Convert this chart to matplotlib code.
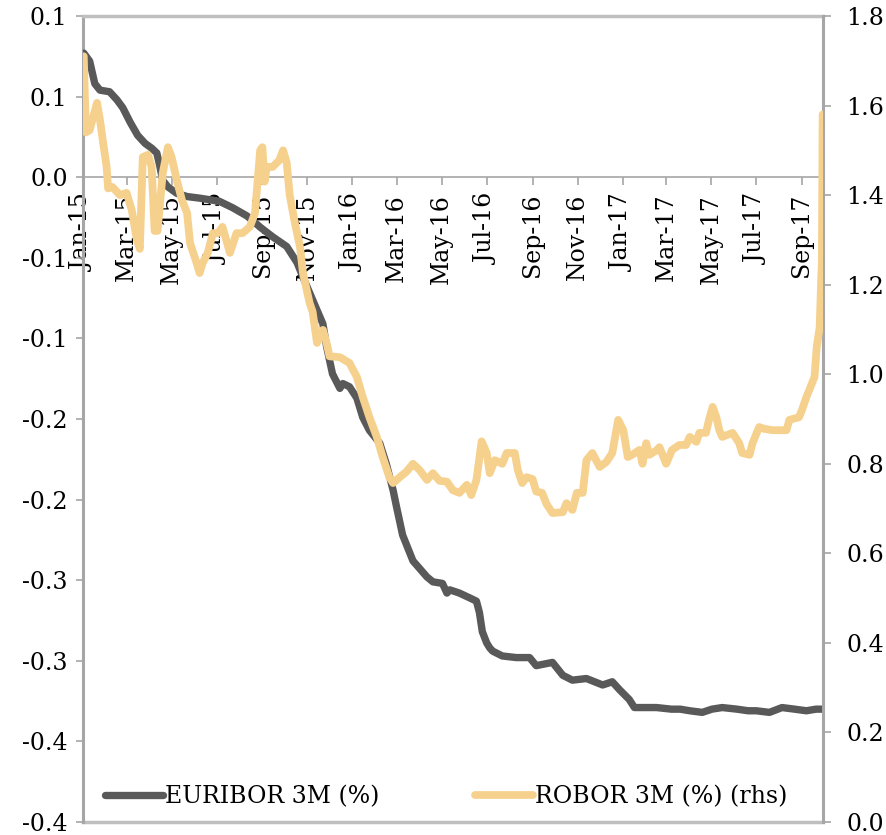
import pandas as pd
import numpy as np
import matplotlib
matplotlib.use('Agg')
import matplotlib.pyplot as plt
import matplotlib.dates as mdates

# EURIBOR 3M (%), left axis
euribor_dates = ['2015-01-02', '2015-01-10', '2015-01-17', '2015-01-24', '2015-02-06', '2015-02-16',
                 '2015-02-24', '2015-03-06', '2015-03-16', '2015-03-26', '2015-04-04', '2015-04-11',
                 '2015-04-15', '2015-04-19', '2015-04-26', '2015-05-08', '2015-05-22', '2015-06-08',
                 '2015-06-22', '2015-07-05', '2015-07-23', '2015-08-11', '2015-08-19', '2015-08-29',
                 '2015-09-15', '2015-10-04', '2015-10-18', '2015-10-26', '2015-11-08', '2015-11-22',
                 '2015-11-27', '2015-12-05', '2015-12-15', '2015-12-19', '2015-12-28', '2016-01-07',
                 '2016-01-15', '2016-01-24', '2016-02-07', '2016-02-16', '2016-02-25', '2016-03-01',
                 '2016-03-09', '2016-03-23', '2016-04-11', '2016-04-19', '2016-05-02', '2016-05-08',
                 '2016-05-12', '2016-05-25', '2016-06-08', '2016-06-17', '2016-06-21', '2016-06-25',
                 '2016-07-01', '2016-07-05', '2016-07-09', '2016-07-22', '2016-08-10', '2016-08-28',
                 '2016-09-06', '2016-09-28', '2016-10-12', '2016-10-25', '2016-11-13', '2016-12-05',
                 '2016-12-18', '2016-12-28', '2017-01-10', '2017-01-17', '2017-02-16', '2017-03-08',
                 '2017-03-20', '2017-04-02', '2017-04-19', '2017-05-02', '2017-05-16', '2017-06-05',
                 '2017-06-20', '2017-07-01', '2017-07-19', '2017-08-05', '2017-08-22', '2017-09-07',
                 '2017-09-20', '2017-09-29']
euribor_vals = [0.077, 0.072, 0.058, 0.054, 0.053, 0.048,
                0.043, 0.034, 0.026, 0.021, 0.018, 0.015,
                0.007, -0.002, -0.006, -0.010, -0.012, -0.013,
                -0.014, -0.015, -0.019, -0.024, -0.027, -0.031,
                -0.037, -0.043, -0.053, -0.062, -0.076, -0.091,
                -0.105, -0.122, -0.131, -0.128, -0.130, -0.137,
                -0.149, -0.157, -0.165, -0.178, -0.194, -0.205,
                -0.222, -0.238, -0.248, -0.251, -0.252, -0.258,
                -0.256, -0.258, -0.261, -0.263, -0.270, -0.282,
                -0.289, -0.292, -0.294, -0.297, -0.298, -0.298,
                -0.303, -0.301, -0.309, -0.312, -0.311, -0.315,
                -0.313, -0.318, -0.324, -0.329, -0.329, -0.330,
                -0.330, -0.331, -0.332, -0.330, -0.329, -0.330,
                -0.331, -0.331, -0.332, -0.329, -0.330, -0.331,
                -0.330, -0.330]

# ROBOR 3M (%), right axis
robor_dates = ['2015-01-02', '2015-01-05', '2015-01-10', '2015-01-20', '2015-01-24', '2015-01-28',
               '2015-02-02', '2015-02-04', '2015-02-10', '2015-02-20', '2015-03-01', '2015-03-08',
               '2015-03-15', '2015-03-19', '2015-03-23', '2015-03-30', '2015-04-04', '2015-04-08',
               '2015-04-12', '2015-04-19', '2015-04-26', '2015-05-01', '2015-05-08', '2015-05-15',
               '2015-05-22', '2015-05-26', '2015-06-04', '2015-06-08', '2015-06-12', '2015-06-19',
               '2015-06-26', '2015-07-03', '2015-07-09', '2015-07-19', '2015-07-28', '2015-08-05',
               '2015-08-15', '2015-08-22', '2015-08-29', '2015-09-01', '2015-09-04', '2015-09-07',
               '2015-09-15', '2015-09-24', '2015-09-29', '2015-10-04', '2015-10-08', '2015-10-15',
               '2015-10-22', '2015-10-26', '2015-11-04', '2015-11-08', '2015-11-14', '2015-11-22',
               '2015-11-27', '2015-12-01', '2015-12-15', '2015-12-28', '2016-01-07', '2016-01-15',
               '2016-01-24', '2016-02-03', '2016-02-11', '2016-02-20', '2016-02-25', '2016-03-05',
               '2016-03-14', '2016-03-23', '2016-04-01', '2016-04-11', '2016-04-19', '2016-04-28',
               '2016-05-08', '2016-05-16', '2016-05-25', '2016-06-04', '2016-06-10', '2016-06-17',
               '2016-06-24', '2016-07-01', '2016-07-05', '2016-07-12', '2016-07-22', '2016-07-28',
               '2016-08-08', '2016-08-12', '2016-08-18', '2016-08-24', '2016-09-01', '2016-09-06',
               '2016-09-14', '2016-09-20', '2016-09-28', '2016-10-12', '2016-10-17', '2016-10-25',
               '2016-10-31', '2016-11-08', '2016-11-13', '2016-11-21', '2016-12-01', '2016-12-10',
               '2016-12-18', '2016-12-26', '2017-01-02', '2017-01-08', '2017-01-14', '2017-01-24',
               '2017-01-28', '2017-02-02', '2017-02-06', '2017-02-16', '2017-02-20', '2017-03-01',
               '2017-03-09', '2017-03-19', '2017-03-28', '2017-04-02', '2017-04-11', '2017-04-15',
               '2017-04-24', '2017-04-28', '2017-05-03', '2017-05-08', '2017-05-12', '2017-05-16',
               '2017-05-30', '2017-06-08', '2017-06-12', '2017-06-22', '2017-06-26', '2017-07-05',
               '2017-07-12', '2017-07-23', '2017-08-11', '2017-08-15', '2017-08-28', '2017-09-01',
               '2017-09-07', '2017-09-11', '2017-09-18', '2017-09-21', '2017-09-25', '2017-09-27',
               '2017-09-28', '2017-09-29']
robor_vals = [1.71, 1.54, 1.545, 1.606, 1.568, 1.52,
              1.463, 1.415, 1.418, 1.40, 1.405, 1.367,
              1.30, 1.28, 1.485, 1.49, 1.463, 1.32,
              1.32, 1.449, 1.507, 1.485, 1.434, 1.389,
              1.36, 1.293, 1.248, 1.226, 1.248, 1.271,
              1.315, 1.315, 1.329, 1.271, 1.315, 1.315,
              1.329, 1.36, 1.50, 1.507, 1.43, 1.463,
              1.463, 1.478, 1.50, 1.472, 1.40, 1.338,
              1.284, 1.226, 1.159, 1.14, 1.07, 1.099,
              1.07, 1.04, 1.038, 1.025, 0.994, 0.949,
              0.904, 0.86, 0.815, 0.77, 0.757, 0.77,
              0.782, 0.80, 0.786, 0.764, 0.779, 0.762,
              0.76, 0.741, 0.735, 0.753, 0.73, 0.764,
              0.85, 0.824, 0.779, 0.808, 0.80, 0.824,
              0.824, 0.786, 0.757, 0.77, 0.766, 0.738,
              0.735, 0.71, 0.69, 0.692, 0.712, 0.697,
              0.735, 0.735, 0.808, 0.824, 0.793, 0.804,
              0.824, 0.898, 0.875, 0.815, 0.82, 0.831,
              0.80, 0.846, 0.82, 0.83, 0.837, 0.80,
              0.831, 0.842, 0.842, 0.86, 0.849, 0.869,
              0.869, 0.898, 0.927, 0.904, 0.875, 0.86,
              0.869, 0.846, 0.824, 0.82, 0.846, 0.882,
              0.878, 0.875, 0.875, 0.898, 0.904, 0.92,
              0.949, 0.965, 0.994, 1.061, 1.105, 1.21,
              1.25, 1.58]

left_ticks = [0.1, 0.05, 0.0, -0.05, -0.1, -0.15, -0.2, -0.25, -0.3, -0.35, -0.4]
left_ticklabels = ['0.1', '0.1', '0.0', '-0.1', '-0.1', '-0.2', '-0.2', '-0.3', '-0.3', '-0.4', '-0.4']
right_ticks = [0.0, 0.2, 0.4, 0.6, 0.8, 1.0, 1.2, 1.4, 1.6, 1.8]
right_ticklabels = ['0.0', '0.2', '0.4', '0.6', '0.8', '1.0', '1.2', '1.4', '1.6', '1.8']
series_names = ['EURIBOR 3M (%)', 'ROBOR 3M (%) (rhs)']

plt.rcParams['font.family'] = 'DejaVu Serif'
plt.rcParams['font.size'] = 17

grey = '#A6A6A6'
dark = '#595959'
sand = '#F6D18E'

fig = plt.figure(figsize=(8.87, 8.35), dpi=100)
ax = fig.add_axes([83/887, 13/835, 740/887, 806/835])
ax2 = ax.twinx()

l1, = ax.plot(pd.to_datetime(euribor_dates), euribor_vals, color=dark, lw=5.3,
              solid_joinstyle='round', solid_capstyle='round', zorder=3)
l2, = ax2.plot(pd.to_datetime(robor_dates), robor_vals, color=sand, lw=5.6,
               solid_joinstyle='round', solid_capstyle='round', zorder=3)

ax.set_xlim(pd.Timestamp('2015-01-01'), pd.Timestamp('2017-09-29 12:00'))
ax.set_ylim(-0.4, 0.1)
ax2.set_ylim(0, 1.8)

ax.set_yticks(left_ticks)
ax.set_yticklabels(left_ticklabels)
ax2.set_yticks(right_ticks)
ax2.set_yticklabels(right_ticklabels)

ax.xaxis.set_major_locator(mdates.MonthLocator(bymonth=[1, 3, 5, 7, 9, 11]))
ax.xaxis.set_major_formatter(mdates.DateFormatter('%b-%y'))

# x axis crosses at zero of left axis
ax.spines['bottom'].set_position(('data', 0))
ax.spines['bottom'].set_color(grey)
ax.spines['bottom'].set_linewidth(1.2)
ax.spines['left'].set_color(grey)
ax.spines['left'].set_linewidth(2.2)
ax.spines['top'].set_color('#BFBFBF')
ax.spines['top'].set_linewidth(2.5)
ax.spines['right'].set_visible(False)
for s in ['left', 'top', 'bottom']:
    ax2.spines[s].set_visible(False)
ax2.spines['right'].set_color(grey)
ax2.spines['right'].set_linewidth(2.2)
# plot-area border along the bottom
ax.plot([0, 1], [0, 0], transform=ax.transAxes, color='#BFBFBF', lw=2.5,
        clip_on=False, zorder=1)

ax.tick_params(axis='x', direction='out', length=6, width=1.2, color=grey, pad=6,
               labelrotation=90)
ax.tick_params(axis='y', direction='out', length=5, width=1.2, color=grey, pad=6)
ax2.tick_params(axis='y', direction='out', length=6, width=1.2, color=grey, pad=11)

fig.legend([l1], [series_names[0]], loc='center left', bbox_to_anchor=(105/887, 38/835),
           frameon=False, borderpad=0, borderaxespad=0, handlelength=2.45,
           handletextpad=0.1)
fig.legend([l2], [series_names[1]], loc='center left', bbox_to_anchor=(475/887, 38/835),
           frameon=False, borderpad=0, borderaxespad=0, handlelength=2.45,
           handletextpad=0.1)

fig.savefig('out.png', dpi=100)
